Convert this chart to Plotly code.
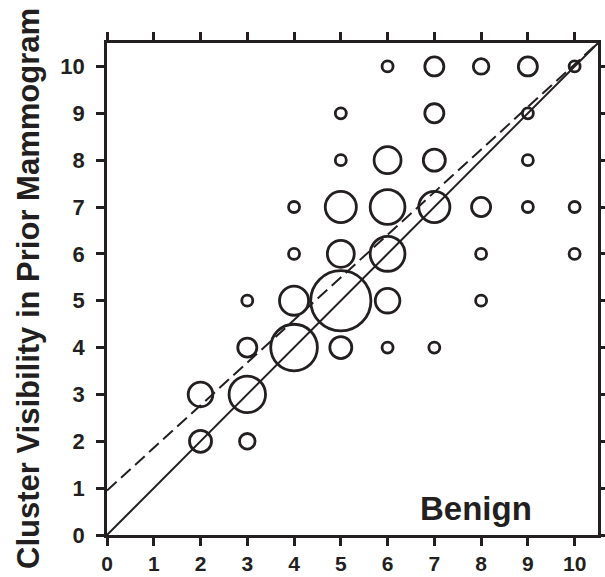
import numpy as np
import plotly.graph_objects as go

# Bubble data: (current visibility x, prior visibility y, count)
bx = [6, 7, 8, 9, 10,
      5, 7, 9,
      5, 6, 7, 9,
      4, 5, 6, 7, 8, 9, 10,
      4, 5, 6, 8, 10,
      3, 4, 5, 6, 8,
      3, 4, 5, 6, 7,
      2, 3,
      2, 3]
by = [10, 10, 10, 10, 10,
      9, 9, 9,
      8, 8, 8, 8,
      7, 7, 7, 7, 7, 7, 7,
      6, 6, 6, 6, 6,
      5, 5, 5, 5, 5,
      4, 4, 4, 4, 4,
      3, 3,
      2, 2]
counts = [1, 3, 2, 3, 1,
          1, 3, 1,
          1, 6, 4, 1,
          1, 8, 10, 8, 3, 1, 1,
          1, 6, 10, 1, 1,
          1, 7, 30, 5, 1,
          3, 18, 4, 1, 1,
          5, 11,
          4, 2]

# Reference lines
identity_x = [0, 10.5]
identity_y = [0, 10.5]
fit_intercept = 0.95
fit_slope = 0.9095
fit_x = [0, 10.5]

ink = "#231f20"
font_family = "Liberation Sans, Arial, sans-serif"

sizes = [11 * np.sqrt(c) for c in counts]
fit_y = [fit_intercept + fit_slope * x for x in fit_x]

fig = go.Figure()
fig.add_trace(go.Scatter(x=identity_x, y=identity_y, mode="lines",
                         line=dict(color=ink, width=2), showlegend=False,
                         hoverinfo="skip"))
fig.add_trace(go.Scatter(x=fit_x, y=fit_y, mode="lines",
                         line=dict(color=ink, width=2, dash="13px,6px"),
                         showlegend=False, hoverinfo="skip"))
fig.add_trace(go.Scatter(x=bx, y=by, mode="markers",
                         marker=dict(size=sizes, color="rgba(0,0,0,0)",
                                     opacity=1,
                                     line=dict(color=ink, width=2.8)),
                         showlegend=False))

axis_common = dict(
    range=[0, 10.5], tick0=0, dtick=1, showgrid=False, zeroline=False,
    showline=True, linecolor=ink, linewidth=2.8, mirror="ticks",
    ticks="outside", ticklen=8, tickwidth=2.5, tickcolor=ink,
    automargin=False,
)

fig.update_layout(
    width=605, height=577,
    margin=dict(l=107, r=7, t=43, b=42, autoexpand=False),
    paper_bgcolor="white", plot_bgcolor="white",
    xaxis=dict(**axis_common, ticklabelstandoff=0,
               tickfont=dict(family=font_family, size=21, color=ink,
                             weight="bold")),
    yaxis=dict(**axis_common, ticklabelstandoff=7,
               tickfont=dict(family=font_family, size=22, color=ink,
                             weight="bold")),
    annotations=[
        dict(text="Cluster Visibility in Prior Mammogram", xref="paper",
             yref="paper", x=0, y=0.5, xanchor="center", yanchor="middle",
             xshift=-79, textangle=-90, showarrow=False,
             font=dict(family=font_family, size=31, color=ink, weight="bold")),
        dict(text="Benign", xref="x", yref="y", x=7.9, y=0.565,
             xanchor="center", yanchor="middle", showarrow=False,
             font=dict(family=font_family, size=33, color=ink, weight="bold")),
    ],
)

fig.write_html("out.html",
               config={"displayModeBar": False},
               post_script="document.body.style.margin='0';"
                           "document.body.style.overflow='hidden';")
